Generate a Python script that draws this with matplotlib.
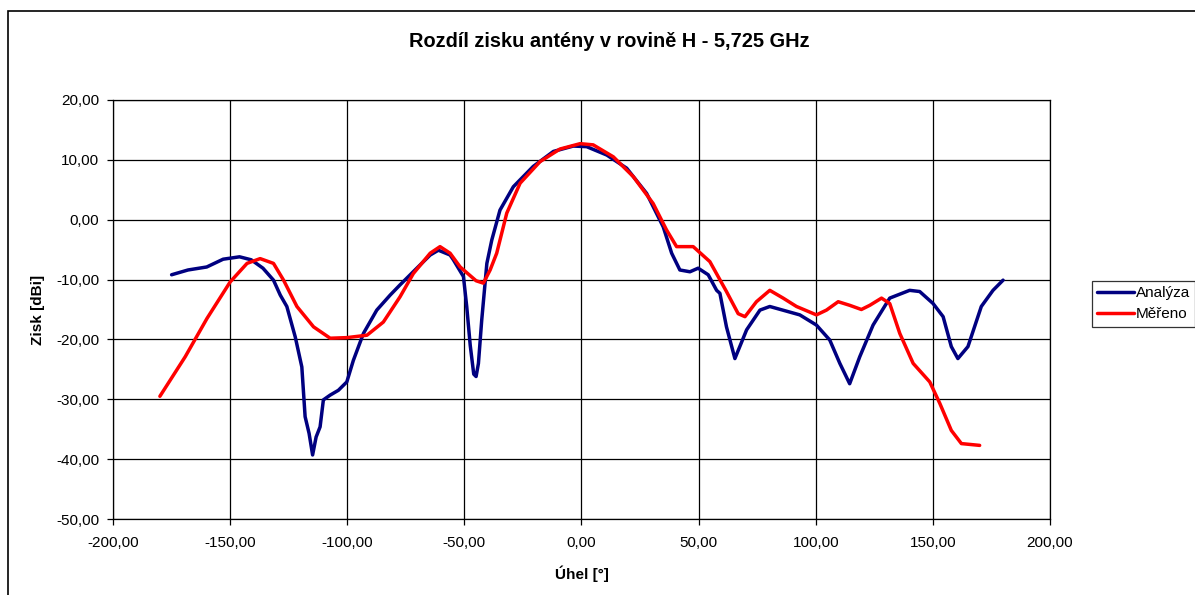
import numpy as np
from matplotlib import pyplot as plt
from matplotlib.patches import Rectangle
from matplotlib.ticker import FuncFormatter, MultipleLocator

# Analýza - vypocteny diagram
uhel_analyza = [-175, -168, -160, -153, -146, -141, -136, -131.5, -128.6, -125.8,
                -122.2, -119.4, -118, -116.3, -114.8, -113.3, -111.6, -110.2, -107.3, -103.8,
                -100.2, -97.4, -93.1, -87.4, -81.7, -77.5, -70.3, -64.6, -61.1, -56.1,
                -54.7, -50.4, -49, -47.5, -46, -45, -44, -42.6, -40.4, -38.3,
                -34.8, -29.1, -20.6, -12, -3.5, 2.2, 10.8, 19.3, 27.8, 34.9,
                38.5, 42, 46.3, 49.8, 54.1, 57.7, 59.1, 61.9, 65.5, 70.5,
                76.2, 80.4, 93.2, 100.3, 106, 110.3, 114.5, 118.8, 124.5, 131.6,
                140.1, 144.4, 150.1, 154.4, 157.9, 160.7, 165, 170.7, 175.7, 180]
zisk_analyza = [-9.2, -8.4, -7.9, -6.6, -6.2, -6.7, -8.1, -10.1, -12.6, -14.5,
                -19.6, -24.6, -32.9, -35.7, -39.3, -36.3, -34.6, -30.1, -29.3, -28.5,
                -27.1, -23.5, -19.0, -15.1, -12.6, -10.9, -8.1, -5.9, -5.1, -5.9,
                -6.7, -9.5, -14.5, -21.0, -25.8, -26.2, -24.0, -16.8, -7.3, -3.4,
                1.6, 5.5, 8.9, 11.4, 12.3, 12.2, 10.8, 8.6, 4.4, -1.2,
                -5.6, -8.4, -8.7, -8.1, -9.2, -11.8, -12.3, -17.9, -23.2, -18.4,
                -15.1, -14.5, -15.9, -17.6, -20.1, -24.0, -27.4, -22.9, -17.6, -13.1,
                -11.8, -12.0, -14.0, -16.2, -21.2, -23.2, -21.2, -14.5, -11.8, -10.1]

# Měřeno - namerene hodnoty
uhel_mereno = [-180, -169.2, -159.9, -150, -142.8, -137.2, -131.5, -127.2, -121.5, -114.4,
               -107.3, -100.2, -91.6, -84.6, -77.5, -71.8, -64.6, -60.4, -56.1, -51.8,
               -45, -41.9, -39, -36.2, -31.9, -26.2, -17.7, -9.2, -0.6, 5,
               13.6, 22.1, 30.6, 36.3, 40.6, 47.7, 54.8, 61.9, 66.9, 69.8,
               74.7, 80.4, 86.1, 91.8, 100.3, 104.6, 109.6, 114.5, 119.5, 123.1,
               128.1, 131.6, 135.9, 141.6, 148.7, 153, 157.9, 162.2, 170]
zisk_mereno = [-29.5, -22.9, -16.5, -10.4, -7.3, -6.5, -7.3, -10.1, -14.5, -17.9,
               -19.8, -19.7, -19.3, -17.1, -12.9, -9.0, -5.6, -4.5, -5.6, -7.9,
               -10.2, -10.6, -8.4, -5.6, 1.1, 6.1, 9.7, 11.8, 12.7, 12.5,
               10.5, 7.2, 2.7, -1.7, -4.5, -4.5, -7.0, -12.0, -15.7, -16.2,
               -13.7, -11.8, -13.1, -14.5, -15.9, -15.1, -13.7, -14.3, -15.0, -14.3,
               -13.1, -14.0, -19.0, -24.0, -27.1, -30.7, -35.2, -37.4, -37.7]


# cisla s desetinnou carkou
def carka(v, pos):
    return ("%.2f" % v).replace(".", ",")


def kresli():
    plt.rcParams['font.family'] = ['Liberation Sans', 'DejaVu Sans']
    fig = plt.figure(figsize=(11.95, 5.95), dpi=100)
    ax = fig.add_axes([0.0946, 0.1277, 0.784, 0.7043])

    # ramecek grafu
    fig.patches.append(Rectangle((8 / 1195, -0.1), 1.2, 1.1 - 12 / 595 + 0.002,
                                 transform=fig.transFigure, fill=False,
                                 edgecolor='black', linewidth=1.2))

    ax.plot(uhel_analyza, zisk_analyza, color='#000080', linewidth=2.5,
            solid_joinstyle='round', solid_capstyle='round', label='Analýza')
    ax.plot(uhel_mereno, zisk_mereno, color='#ff0000', linewidth=2.5,
            solid_joinstyle='round', solid_capstyle='round', label='Měřeno')

    ax.set_xlim(-200, 200)
    ax.set_ylim(-50, 20)
    ax.xaxis.set_major_locator(MultipleLocator(50))
    ax.yaxis.set_major_locator(MultipleLocator(10))
    ax.xaxis.set_major_formatter(FuncFormatter(carka))
    ax.yaxis.set_major_formatter(FuncFormatter(carka))
    ax.grid(True, color='black', linewidth=0.9)
    ax.tick_params(labelsize=11, length=4, width=0.9, direction='out')
    ax.tick_params(axis='x', pad=8)
    ax.tick_params(axis='y', pad=6)
    for s in ax.spines.values():
        s.set_linewidth(0.9)

    ax.set_xlabel('Úhel [°]', fontsize=11, fontweight='bold')
    ax.set_ylabel('Zisk [dBi]', fontsize=11, fontweight='bold')
    ax.xaxis.set_label_coords(0.5, -0.112)
    ax.yaxis.set_label_coords(-0.0727, 0.5)
    fig.text(0.51, 0.931, 'Rozdíl zisku antény v rovině H - 5,725 GHz',
             ha='center', va='center', fontsize=14.4, fontweight='bold')

    leg = fig.legend(loc='upper left', bbox_to_anchor=(1092 / 1195, 1 - 281 / 595),
                     fontsize=11, frameon=True, fancybox=False, edgecolor='black',
                     handlelength=2.4, handletextpad=0.1, borderpad=0.35,
                     labelspacing=0.45, borderaxespad=0)
    leg.get_frame().set_linewidth(0.9)
    for l in leg.get_lines():
        l.set_linewidth(2.5)

    fig.savefig('out.png', dpi=100)


if __name__ == "__main__":
    kresli()
